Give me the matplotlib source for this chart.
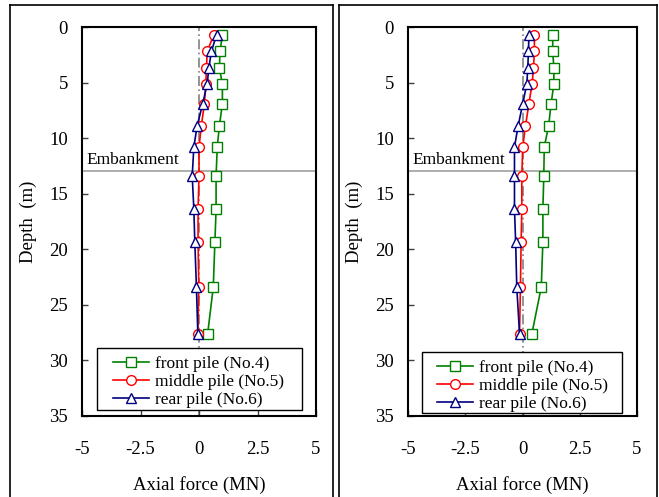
import matplotlib
matplotlib.use("Agg")
import matplotlib.pyplot as plt
from matplotlib.lines import Line2D
from matplotlib.patches import Rectangle

plt.rcParams['font.family'] = ['Liberation Serif', 'DejaVu Serif']

depth = [0.7, 2.2, 3.7, 5.1, 6.9, 8.9, 10.8, 13.4, 16.4, 19.3, 23.4, 27.6]

left_front = [1.00, 0.90, 0.87, 1.00, 1.00, 0.87, 0.78, 0.73, 0.73, 0.68, 0.61, 0.37]
left_middle = [0.63, 0.35, 0.32, 0.29, 0.23, 0.10, 0.00, 0.00, -0.04, -0.04, -0.01, -0.05]
left_rear = [0.75, 0.53, 0.42, 0.35, 0.16, -0.08, -0.22, -0.29, -0.22, -0.18, -0.11, -0.05]

right_front = [1.32, 1.32, 1.37, 1.37, 1.25, 1.14, 0.95, 0.93, 0.89, 0.89, 0.82, 0.41]
right_middle = [0.52, 0.52, 0.48, 0.42, 0.28, 0.13, 0.01, -0.03, -0.03, -0.06, -0.09, -0.13]
right_rear = [0.28, 0.26, 0.23, 0.19, 0.01, -0.19, -0.35, -0.35, -0.35, -0.30, -0.25, -0.13]

labels = ["front pile (No.4)", "middle pile (No.5)", "rear pile (No.6)"]
xticks = [-5, -2.5, 0, 2.5, 5]
xtick_labels = ["-5", "-2.5", "0", "2.5", "5"]
yticks = [0, 5, 10, 15, 20, 25, 30, 35]
embankment_depth = 13

W, H = 659, 497
fig = plt.figure(figsize=(W / 100, H / 100), dpi=100)

def fx(px):
    return px / W

def fy(py):
    return 1 - py / H

# outer frames
for x0, x1 in [(10, 333), (339, 657)]:
    for xx in (x0, x1):
        fig.add_artist(Line2D([fx(xx), fx(xx)], [fy(5), fy(500)], color='black', lw=1.2,
                              transform=fig.transFigure))
    fig.add_artist(Line2D([fx(x0), fx(x1)], [fy(5), fy(5)], color='black', lw=1.2,
                          transform=fig.transFigure))

# (axes x0, x1, series, legend box (x0, y0, x1, y1), legend handle start x, first row top y)
panels = [
    (82, 316, (left_front, left_middle, left_rear), (97, 348, 302, 410), 113, 356),
    (408, 637, (right_front, right_middle, right_rear), (422, 352, 622, 413), 437, 360),
]
colors = ['#008000', '#ff0000', '#000080']
markers = ['s', 'o', '^']

for x0, x1, series, legbox, hx, hy in panels:
    top, bot = 27, 416
    ax = fig.add_axes([fx(x0), fy(bot), (x1 - x0) / W, (bot - top) / H])
    ax.axvline(0, color='#808080', lw=1.2, ls=(0, (6, 2, 1, 2)), zorder=1)
    ax.axhline(embankment_depth, color='#a0a0a0', lw=1.2, zorder=1)
    for vals, c, m, lab in zip(series, colors, markers, labels):
        ax.plot(vals, depth, color=c, marker=m, markersize=7 if m != '^' else 7.5,
                markerfacecolor='white', markeredgecolor=c, markeredgewidth=1.0,
                lw=1.2, label=lab, zorder=3)
    ax.set_xlim(-5, 5)
    ax.set_ylim(35, 0)
    ax.set_xticks(xticks)
    ax.set_xticklabels(xtick_labels)
    ax.set_yticks(yticks)
    ax.tick_params(direction='in', length=4, width=1, labelsize=13.5, color='#404040')
    ax.tick_params(axis='x', pad=18)
    ax.tick_params(axis='y', pad=10)
    for s in ax.spines.values():
        s.set_linewidth(1.5)
    ax.text(-4.8, embankment_depth - 0.35, "Embankment", fontsize=12.5, ha='left', va='bottom')
    ax.set_xlabel("Axial force (MN)", fontsize=13.5, labelpad=13)
    ax.set_ylabel("Depth  (m)", fontsize=13.5, labelpad=9)

    # legend frame
    lx0, ly0, lx1, ly1 = legbox
    ax.add_patch(Rectangle((fx(lx0), fy(ly1)), (lx1 - lx0) / W, (ly1 - ly0) / H,
                           transform=fig.transFigure, fill=True, facecolor='white',
                           edgecolor='black', lw=1.0, zorder=4))
    leg = ax.legend(loc='upper left', bbox_to_anchor=(fx(hx), fy(hy)),
                    bbox_transform=fig.transFigure,
                    fontsize=12.5, frameon=False, handlelength=2.1,
                    handletextpad=0.3, labelspacing=0.1, borderpad=0, borderaxespad=0)
    leg.set_zorder(5)

fig.savefig("out.png", dpi=100)
